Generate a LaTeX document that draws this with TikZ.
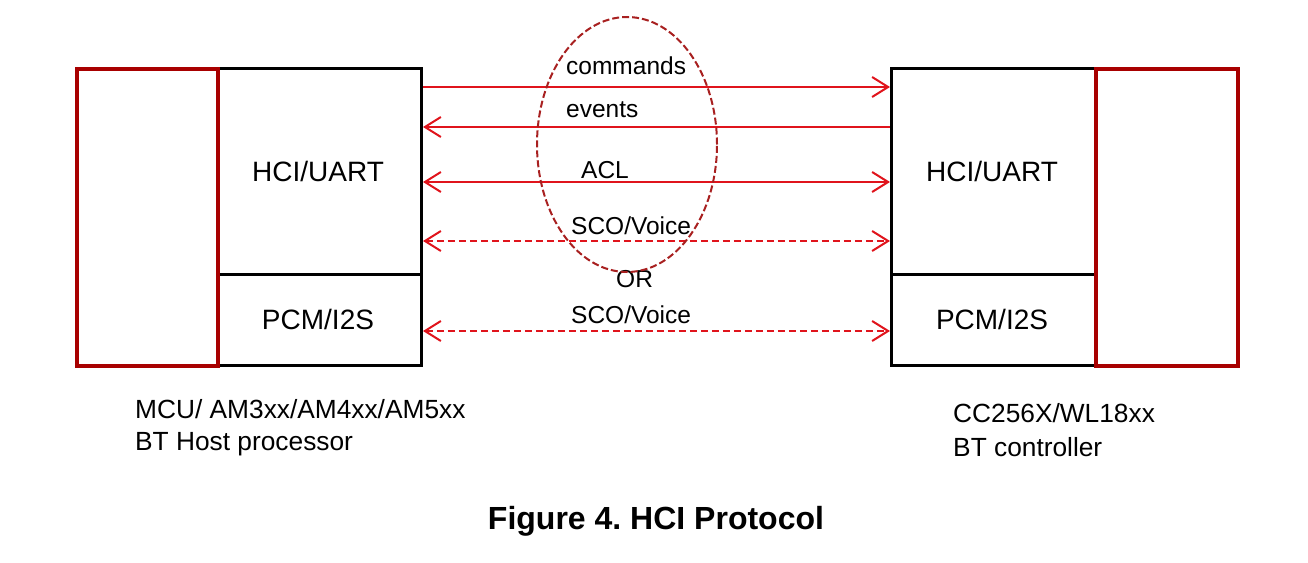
\documentclass[tikz,border=0pt]{standalone}
\usepackage{fontspec}
\setmainfont{Liberation Sans}
\usetikzlibrary{arrows.meta,shapes.geometric}
\definecolor{boxred}{HTML}{A80000}
\definecolor{arrred}{HTML}{E0141C}
\definecolor{ovalred}{HTML}{A82020}
\tikzset{
  hostbox/.style={draw=boxred,line width=4pt,inner sep=0pt,anchor=north west},
  ifbox/.style={draw=black,line width=3pt,inner sep=0pt,anchor=north west},
  boxlabel/.style={inner sep=0pt,anchor=base,font=\fontsize{28}{34}\selectfont},
  siglabel/.style={inner sep=0pt,anchor=base west,font=\fontsize{24.5}{29}\selectfont},
  desclabel/.style={inner sep=0pt,anchor=base west,font=\fontsize{26.3}{32}\selectfont},
  sig/.style={draw=arrred,line width=2pt,arrows={-}},
  sigdash/.style={sig,dash pattern=on 7pt off 4pt},
  tipR/.style={-{Straight Barb[length=16pt,width=20pt,line width=2pt]}},
  tipLR/.style={{Straight Barb[length=16pt,width=20pt,line width=2pt]}-{Straight Barb[length=16pt,width=20pt,line width=2pt]}},
  tipL/.style={{Straight Barb[length=16pt,width=20pt,line width=2pt]}-},
}
\begin{document}
\frenchspacing
\begin{tikzpicture}[x=1pt,y=-1pt]
\useasboundingbox (0,0) rectangle (1308,562);
% interface boxes
\node[ifbox,minimum width=204pt,minimum height=206pt] (lhci) at (216,67) {};
\node[ifbox,minimum width=204pt,minimum height=91pt] (lpcm) at (216,273) {};
\node[ifbox,minimum width=204pt,minimum height=206pt] (rhci) at (890,67) {};
\node[ifbox,minimum width=204pt,minimum height=91pt] (rpcm) at (890,273) {};
% host boxes
\node[hostbox,minimum width=141pt,minimum height=297pt] (lhost) at (75,67) {};
\node[hostbox,minimum width=142pt,minimum height=297pt] (rhost) at (1094,67) {};
% box labels
\node[boxlabel] (lhcit) at (318,181) {HCI/UART};
\node[boxlabel] (lpcmt) at (318,329) {PCM/I2S};
\node[boxlabel] (rhcit) at (992,181) {HCI/UART};
\node[boxlabel] (rpcmt) at (992,329) {PCM/I2S};
% arrow rows
\coordinate (ycmd) at (0,87);
\coordinate (yevt) at (0,127);
\coordinate (yacl) at (0,182);
\coordinate (ysco) at (0,241);
\coordinate (ypcm) at (0,331);
\draw[sig,tipR] (lhci.east |- ycmd) -- (rhci.west |- ycmd);
\draw[sig,tipL] (lhci.east |- yevt) -- (rhci.west |- yevt);
\draw[sig,tipLR] (lhci.east |- yacl) -- (rhci.west |- yacl);
\draw[sigdash,tipLR] (lhci.east |- ysco) -- (rhci.west |- ysco);
\draw[sigdash,tipLR] (lpcm.east |- ypcm) -- (rpcm.west |- ypcm);
% signal labels
\node[siglabel] (tcmd) at (566,74) {commands};
\node[siglabel] (tevt) at (566,117) {events};
\node[siglabel] (tacl) at (581,178) {ACL};
\node[siglabel] (tsco) at (571,234) {SCO/Voice};
\node[siglabel] (tor) at (616,287) {OR};
\node[siglabel] (tsco2) at (571,323) {SCO/Voice};
% oval
\node[ellipse,draw=ovalred,line width=2pt,dash pattern=on 7pt off 3pt,inner sep=0pt,minimum width=180pt,minimum height=255pt] (oval) at (627,144.5) {};
% descriptions
\node[desclabel] (ld1) at (135,418) {MCU/ AM3xx/AM4xx/AM5xx};
\node[desclabel] (ld2) at (135,450) {BT Host processor};
\node[desclabel] (rd1) at (953,422) {CC256X/WL18xx};
\node[desclabel] (rd2) at (953,456) {BT controller};
% caption
\node[inner sep=0pt,anchor=base,font=\fontsize{32}{38}\selectfont\bfseries] (cap) at (656,529) {Figure 4. HCI Protocol};
\end{tikzpicture}
\end{document}
